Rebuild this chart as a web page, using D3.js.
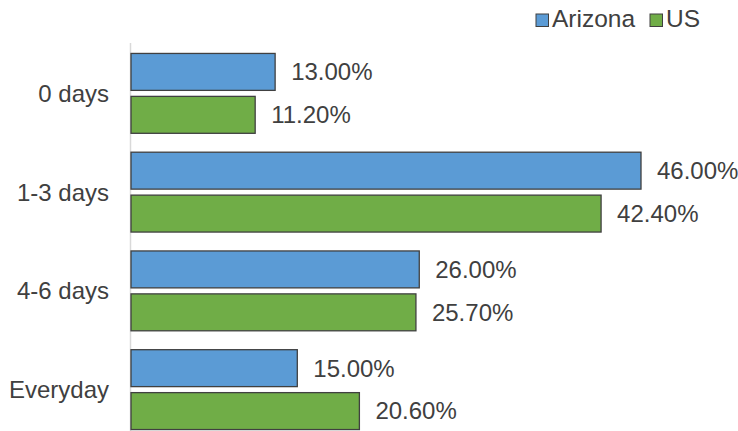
<!DOCTYPE html>
<html>
<head>
<meta charset="utf-8">
<script src="https://cdn.jsdelivr.net/npm/d3@7"></script>
<style>
  html, body { margin: 0; padding: 0; background: #fff; }
  svg { display: block; font-family: "Liberation Sans", Arial, sans-serif; }
</style>
</head>
<body>
<svg id="chart" width="738" height="431"></svg>
<script>
const categories = ["0 days", "1-3 days", "4-6 days", "Everyday"];
const seriesNames = ["Arizona", "US"];
const arizona = [13.0, 46.0, 26.0, 15.0];
const us = [11.2, 42.4, 25.7, 20.6];
const colors = ["#5b9bd5", "#70ad47"];

const svg = d3.select("#chart");
const W = 738, H = 431;

const x = d3.scaleLinear().domain([0, 46]).range([131, 641]);
const y = d3.scaleBand().domain(categories).range([44, 439]).paddingInner(0).paddingOuter(0);
const inner = d3.scaleBand().domain(seriesNames).range([0, y.bandwidth()]).paddingInner(0.14).paddingOuter(0.22);

const values = { Arizona: arizona, US: us };

// vertical category axis line
svg.append("line")
  .attr("x1", 130.5).attr("x2", 130.5)
  .attr("y1", 43).attr("y2", H)
  .attr("stroke", "#d9d9d9").attr("stroke-width", 1.5);

// bars with value labels
seriesNames.forEach((s, si) => {
  const g = svg.append("g");
  g.selectAll("rect").data(values[s]).join("rect")
    .attr("x", x(0))
    .attr("y", (d, i) => y(categories[i]) + inner(s))
    .attr("width", d => x(d) - x(0))
    .attr("height", inner.bandwidth())
    .attr("fill", colors[si])
    .attr("stroke", "#404040")
    .attr("stroke-width", 1.3);
  g.selectAll("text").data(values[s]).join("text")
    .attr("x", d => x(d) + 16)
    .attr("y", (d, i) => y(categories[i]) + inner(s) + inner.bandwidth() / 2)
    .attr("dy", "0.35em")
    .attr("font-size", 24)
    .attr("fill", "#404040")
    .text(d => d.toFixed(2) + "%");
});

// category labels
svg.append("g").selectAll("text").data(categories).join("text")
  .attr("x", 109)
  .attr("y", d => y(d) + y.bandwidth() / 2)
  .attr("dy", "0.35em")
  .attr("text-anchor", "end")
  .attr("font-size", 24)
  .attr("fill", "#404040")
  .text(d => d);

// legend
const legend = svg.append("g");
const legendItems = [{ name: "Arizona", x: 536 }, { name: "US", x: 650 }];
legendItems.forEach((it, i) => {
  legend.append("rect")
    .attr("x", it.x).attr("y", 14)
    .attr("width", 12.5).attr("height", 12.5)
    .attr("fill", colors[i])
    .attr("stroke", "#404040").attr("stroke-width", 1);
  legend.append("text")
    .attr("x", it.x + 16).attr("y", 27)
    .attr("font-size", 24.5)
    .attr("fill", "#404040")
    .text(it.name);
});
</script>
</body>
</html>
